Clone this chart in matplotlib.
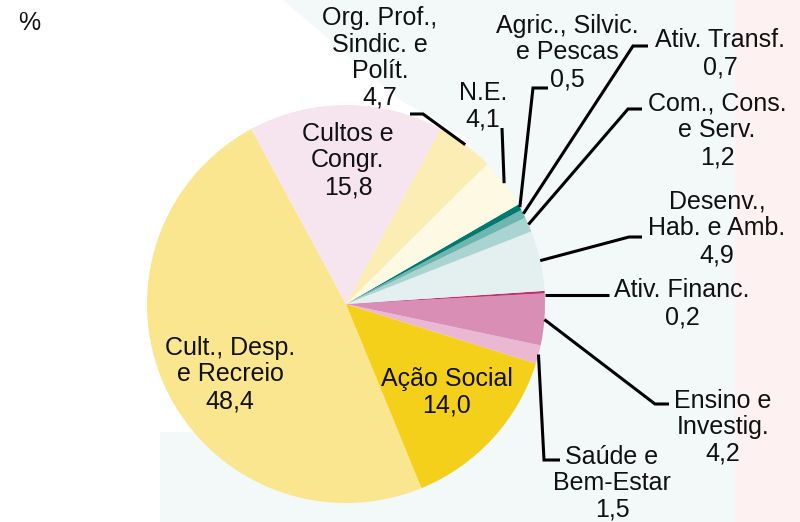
import numpy as np
import matplotlib.pyplot as plt
from matplotlib.patches import Polygon, Rectangle

plt.rcParams['font.family'] = ['Liberation Sans', 'DejaVu Sans']

# data: slices in drawing order (counter-clockwise on screen from upper left)
categories = ['Cult., Desp.\ne Recreio', 'Ação Social', 'Saúde e\nBem-Estar',
              'Ensino e\nInvestig.', 'Ativ. Financ.', 'Desenv.,\nHab. e Amb.',
              'Com., Cons.\ne Serv.', 'Ativ. Transf.', 'Agric., Silvic.\ne Pescas',
              'N.E.', 'Org. Prof.,\nSindic. e\nPolít.', 'Cultos e\nCongr.']
values = [48.4, 14.0, 1.5, 4.2, 0.2, 4.9, 1.2, 0.7, 0.5, 4.1, 4.7, 15.8]
value_labels = ['48,4', '14,0', '1,5', '4,2', '0,2', '4,9', '1,2', '0,7', '0,5', '4,1', '4,7', '15,8']
colors = ['#F9E68E', '#F5D01A', '#EAB8D3', '#D98EB5', '#C0306E', '#E3F0EF',
          '#A9D4D2', '#6FB5B0', '#00796F', '#FDF9E3', '#FBEDB3', '#F6E5EF']

# layout (pixel coordinates, y downward)
cx, cy, R = 346, 304, 199
start = 118.4
line_h = 27

fig = plt.figure(figsize=(8, 5.22), dpi=100)
ax = fig.add_axes([0, 0, 1, 1])

# faint background
bg = dict(linewidth=0, zorder=0)
ax.add_patch(Polygon([(283, 0), (735, 0), (735, 522), (160, 522), (160, 432),
                      (470, 432), (470, 140), (400, 100)], closed=True,
                     facecolor='#F3F8F8', **bg))
ax.add_patch(Rectangle((735, 0), 65, 522, facecolor='#FDF1F1', **bg))

ax.pie(values, colors=colors, startangle=-start, counterclock=False,
       center=(cx, cy), radius=R, frame=True,
       wedgeprops=dict(linewidth=0))
ax.set_xlim(0, 800)
ax.set_ylim(522, 0)
ax.set_aspect('auto')
ax.axis('off')

# mid angles on screen
total = sum(values)
cum = np.cumsum([0] + values)
mids = start + (cum[:-1] + np.array(values) / 2) / total * 360


def edge(i, r=1.0):
    a = np.deg2rad(mids[i])
    return cx + R * r * np.cos(a), cy - R * r * np.sin(a)


fs = 18
txt = dict(fontsize=fs, ha='center', va='baseline', linespacing=1.14, color='#111111')


def label(i, x, y_first):
    s = categories[i] + '\n' + value_labels[i]
    n = s.count('\n')
    ax.text(x, y_first + n * line_h, s, **txt)


# labels inside the pie (first-line baseline)
inside = {0: (230, 354), 1: (447, 386), 11: (348, 140)}
for i, (x, y) in inside.items():
    label(i, x, y)

# outside labels: text position, leader points from elbow toward the text
outside = {
    10: ((380, 24), [(423, 114), (410, 114)]),
    9: ((483, 100), [(502, 128)]),
    8: ((567, 32), [(533, 88), (548, 88)]),
    7: ((720, 47), [(633, 46), (648, 46)]),
    6: ((717, 110), [(628, 109), (642, 109)]),
    5: ((717, 208), [(629, 237), (642, 237)]),
    4: ((682, 297), [(609, 295)]),
    3: ((723, 407), [(655, 404), (669, 404)]),
    2: ((612, 463), [(544, 460), (560, 460)]),
}
for i, ((tx, ty), pts) in outside.items():
    ex, ey = edge(i, 1.0)
    if i == 4:
        ey = pts[0][1]
    xs = [ex] + [p[0] for p in pts]
    ys = [ey] + [p[1] for p in pts]
    ax.plot(xs, ys, color='black', lw=2.2, solid_capstyle='butt',
            solid_joinstyle='miter', zorder=5)
    label(i, tx, ty)

ax.text(18, 30, '%', fontsize=fs, ha='left', va='baseline', color='#111111')

fig.savefig('out.png', dpi=100)
